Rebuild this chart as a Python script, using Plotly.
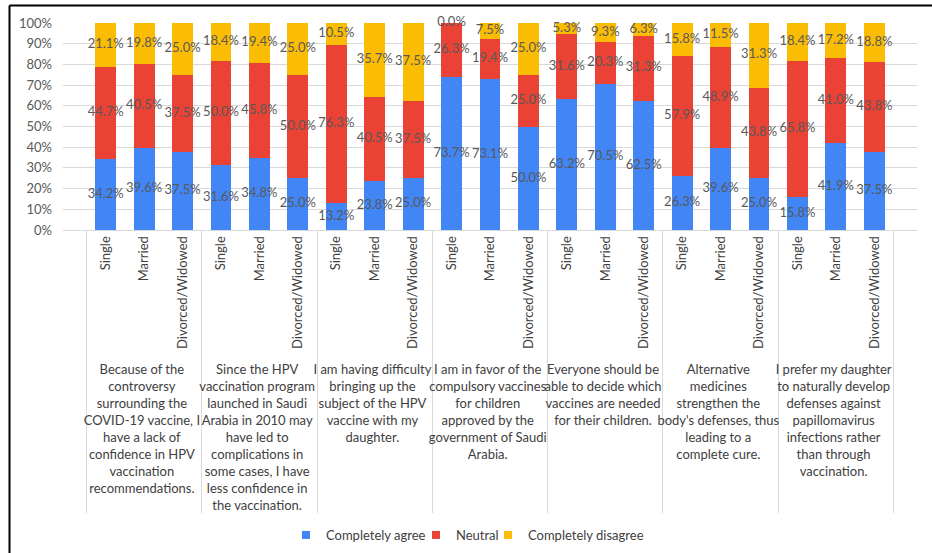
import plotly.graph_objects as go

groups = [
    "Because of the<br>controversy<br>surrounding the<br>COVID-19 vaccine, I<br>have a lack of<br>confidence in HPV<br>vaccination<br>recommendations.",
    "Since the HPV<br>vaccination program<br>launched in Saudi<br>Arabia in 2010 may<br>have led to<br>complications in<br>some cases, I have<br>less confidence in<br>the vaccination.",
    "I am having difficulty<br>bringing up the<br>subject of the HPV<br>vaccine with my<br>daughter.",
    "I am in favor of the<br>compulsory vaccines<br>for children<br>approved by the<br>government of Saudi<br>Arabia.",
    "Everyone should be<br>able to decide which<br>vaccines are needed<br>for their children.",
    "Alternative<br>medicines<br>strengthen the<br>body's defenses, thus<br>leading to a<br>complete cure.",
    "I prefer my daughter<br>to naturally develop<br>defenses against<br>papillomavirus<br>infections rather<br>than through<br>vaccination.",
]
statuses = ["Single", "Married", "Divorced/Widowed"]

agree = [34.2, 39.6, 37.5, 31.6, 34.8, 25.0, 13.2, 23.8, 25.0, 73.7, 73.1, 50.0,
         63.2, 70.5, 62.5, 26.3, 39.6, 25.0, 15.8, 41.9, 37.5]
neutral = [44.7, 40.5, 37.5, 50.0, 45.8, 50.0, 76.3, 40.5, 37.5, 26.3, 19.4, 25.0,
           31.6, 20.3, 31.3, 57.9, 48.9, 43.8, 65.8, 41.0, 43.8]
disagree = [21.1, 19.8, 25.0, 18.4, 19.4, 25.0, 10.5, 35.7, 37.5, 0.0, 7.5, 25.0,
            5.3, 9.3, 6.3, 15.8, 11.5, 31.3, 18.4, 17.2, 18.8]

series_names = ["Completely agree", "Neutral", "Completely disagree"]
colors = ["#4285F4", "#EA4335", "#FBBC04"]

xg = [g for g in groups for _ in statuses]
xs = [s for _ in groups for s in statuses]
x = [xg, xs]

FONT = "Lato"
W, H = 932, 553
L, R, T, B = 63, 15, 23, 323
pw, ph = W - L - R, H - T - B


def px(xpix):
    return (xpix - L) / pw


def py(ypix):
    return (H - B - ypix) / ph


legend_ids = ["legend", "legend2", "legend3"]
legend_x = [286, 416, 488]  # left pixel of each legend item

fig = go.Figure()
series = [agree, neutral, disagree]
base = [0.0] * len(agree)
for name, vals, col, lid in zip(series_names, series, colors, legend_ids):
    fig.add_trace(go.Bar(
        x=x, y=vals, name=name, marker=dict(color=col, line=dict(width=0)),
        hoverinfo="skip", showlegend=False,
    ))
    fig.add_trace(go.Scatter(
        x=[None], y=[None], mode="markers", name=name,
        marker=dict(symbol="square", size=8, color=col), legend=lid,
    ))
    mids = [b + v / 2 for b, v in zip(base, vals)]
    fig.add_trace(go.Scatter(
        x=x, y=mids, mode="text", text=[f"{v:.1f}%" for v in vals],
        textfont=dict(family=FONT, size=13, color="#595959"),
        showlegend=False, hoverinfo="skip", cliponaxis=False,
    ))
    base = [b + v for b, v in zip(base, vals)]

legend_common = dict(orientation="h", yanchor="bottom", xanchor="left", itemwidth=30,
                     font=dict(family=FONT, size=13, color="#404040"),
                     bgcolor="rgba(0,0,0,0)", xref="container", yref="container")
legends = {}
for lid, lx in zip(legend_ids, legend_x):
    legends[lid] = dict(legend_common, x=lx / W, y=3 / H)

fig.update_layout(
    width=W, height=H,
    margin=dict(l=L, r=R, t=T, b=B),
    barmode="stack", bargap=0.46,
    plot_bgcolor="white", paper_bgcolor="white",
    font=dict(family=FONT, size=13, color="#404040"),
    **legends,
    xaxis=dict(type="multicategory", tickangle=-90, showline=True, linecolor="#D9D9D9",
               linewidth=1, showdividers=True, dividercolor="#D9D9D9", dividerwidth=1,
               tickfont=dict(family=FONT, size=13, color="#404040"), automargin=False,
               ticks=""),
    yaxis=dict(range=[0, 100], dtick=10, ticksuffix="%", showgrid=True, gridcolor="#D9D9D9",
               zeroline=False, showline=False, tickfont=dict(family=FONT, size=13, color="#595959"),
               automargin=False, ticklabelstandoff=10),
    shapes=[
        dict(type="line", xref="paper", yref="paper", x0=px(9.5), x1=px(9.5), y0=py(560), y1=py(5.5),
             line=dict(color="black", width=2)),
        dict(type="line", xref="paper", yref="paper", x0=px(9.5), x1=px(940), y0=py(5.5), y1=py(5.5),
             line=dict(color="black", width=2)),
    ],
)

fig.write_html("out.html")
